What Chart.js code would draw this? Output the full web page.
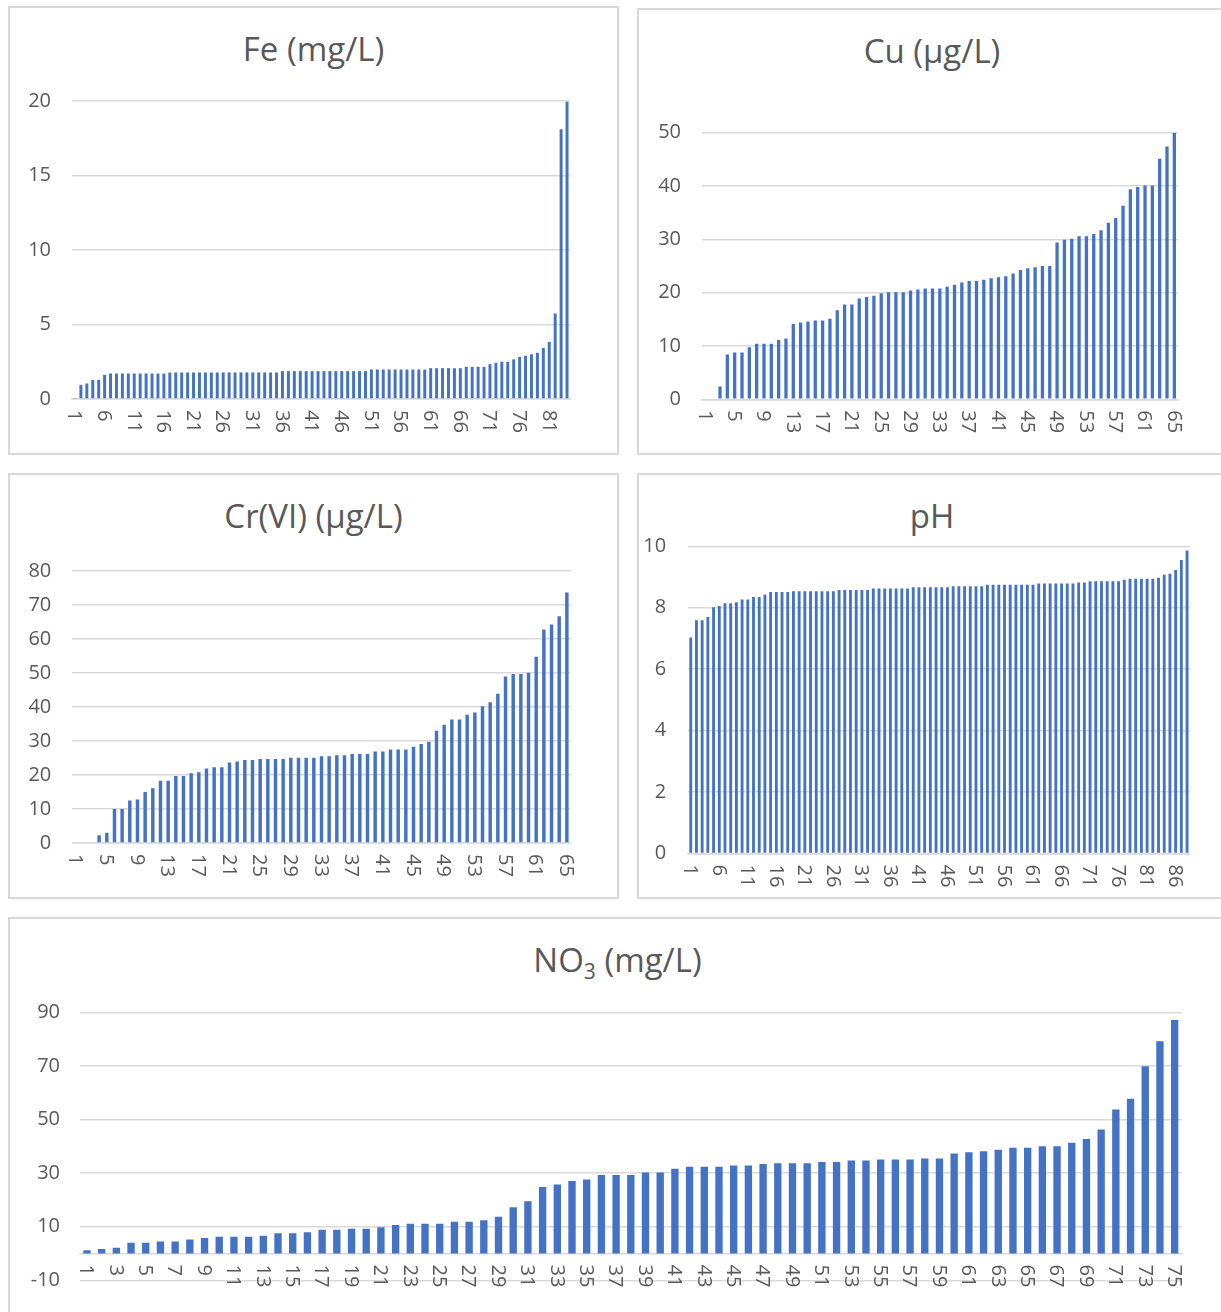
<!DOCTYPE html>
<html>
<head>
<meta charset="utf-8">
<script src="https://cdn.jsdelivr.net/npm/chart.js@4.4.1/dist/chart.umd.min.js"></script>
<style>
  html, body { margin: 0; padding: 0; overflow: hidden; background: #fff; }
  body { width: 1221px; height: 1312px; position: relative; }
  .panel { position: absolute; box-sizing: border-box; border: 2px solid #d9d9d9; }
  .panel canvas { position: absolute; left: -2px; top: -2px; }
  .title { position: absolute; left: 0; right: 0; top: 21px; text-align: center;
           font: 33px/40px "Open Sans", sans-serif; color: #595959; }
  .title sub { font-size: 21px; line-height: 0; vertical-align: -7px; }
</style>
</head>
<body>

<div class="panel" style="left:8px;top:6px;width:611px;height:449px">
  <div class="title">Fe (mg/L)</div>
  <canvas id="fe" width="611" height="449"></canvas>
</div>
<div class="panel" style="left:637px;top:8px;width:590px;height:447px">
  <div class="title">Cu (µg/L)</div>
  <canvas id="cu" width="590" height="447"></canvas>
</div>
<div class="panel" style="left:8px;top:473px;width:611px;height:426px">
  <div class="title">Cr(VI) (µg/L)</div>
  <canvas id="cr" width="611" height="426"></canvas>
</div>
<div class="panel" style="left:637px;top:473px;width:590px;height:426px">
  <div class="title">pH</div>
  <canvas id="ph" width="590" height="426"></canvas>
</div>
<div class="panel" style="left:8px;top:917px;width:1219px;height:400px">
  <div class="title">NO<sub>3</sub> (mg/L)</div>
  <canvas id="no3" width="1219" height="395"></canvas>
</div>

<script>
// sorted sample values
const feValues = [0.07, 0.95, 1.04, 1.28, 1.28, 1.62,
  1.71, 1.71, 1.71, 1.71, 1.71, 1.71, 1.71, 1.71, 1.71, 1.71,
  1.78, 1.78, 1.78, 1.78, 1.78, 1.78, 1.78, 1.78, 1.78, 1.78,
  1.78, 1.78, 1.78, 1.78, 1.78, 1.78, 1.78, 1.78, 1.78,
  1.87, 1.87, 1.87, 1.87, 1.87, 1.87, 1.87, 1.87, 1.87, 1.87,
  1.87, 1.87, 1.87, 1.87, 1.87,
  1.98, 1.98, 1.98, 1.98, 1.98, 1.98, 1.98, 1.98, 1.98, 1.98,
  2.07, 2.07, 2.07, 2.07, 2.07, 2.07,
  2.16, 2.16, 2.16, 2.16,
  2.34, 2.43, 2.5, 2.5, 2.66, 2.82, 2.9, 3.0, 3.1, 3.42, 3.83, 5.74, 18.1, 19.95];

const cuValues = [0, 0, 2.4, 8.4, 8.8, 8.8, 9.75, 10.4, 10.4, 10.4,
  11.1, 11.4, 14.1, 14.4, 14.6, 14.8, 14.8, 15.1, 16.7, 17.8,
  17.8, 18.9, 19.2, 19.4, 19.9, 20.1, 20.1, 20.1, 20.4, 20.6,
  20.8, 20.8, 20.8, 21.1, 21.5, 21.9, 22.2, 22.2, 22.4, 22.7,
  22.9, 23.1, 23.6, 24.25, 24.6, 24.75, 25, 25, 29.4, 29.9,
  30.1, 30.6, 30.6, 31, 31.7, 33.1, 34, 36.3, 39.4, 39.8,
  40.1, 40.1, 45.1, 47.4, 50];

const crValues = [0, 0, 0, 2.25, 3.0, 10, 10, 12.5, 12.8, 15,
  16.1, 18.3, 18.3, 19.7, 19.7, 20.5, 20.8, 21.9, 22.3, 22.3,
  23.7, 24, 24.4, 24.4, 24.7, 24.7, 24.7, 24.7, 25.1, 25.1,
  25.1, 25.1, 25.5, 25.5, 25.8, 25.8, 26.2, 26.2, 26.2, 26.9,
  26.9, 27.5, 27.5, 27.5, 28.3, 29.1, 29.8, 33.0, 34.8, 36.3,
  36.3, 37.7, 38.4, 40.2, 41.4, 43.9, 49.0, 49.7, 49.7, 50.1,
  54.8, 62.8, 64.3, 66.7, 73.7];

const phValues = [7.03, 7.59, 7.59, 7.70, 8.02, 8.06, 8.15, 8.15, 8.18, 8.27,
  8.27, 8.35, 8.35, 8.43, 8.51, 8.51, 8.51, 8.51, 8.54, 8.54,
  8.54, 8.54, 8.54, 8.54, 8.54, 8.54, 8.58, 8.58, 8.58, 8.58,
  8.58, 8.58, 8.63, 8.63, 8.63, 8.63, 8.63, 8.63, 8.63, 8.67,
  8.67, 8.67, 8.67, 8.67, 8.67, 8.67, 8.70, 8.70, 8.70, 8.70,
  8.70, 8.70, 8.75, 8.75, 8.75, 8.75, 8.75, 8.75, 8.75, 8.75,
  8.75, 8.79, 8.79, 8.79, 8.79, 8.79, 8.79, 8.79, 8.82, 8.82,
  8.86, 8.86, 8.86, 8.86, 8.86, 8.86, 8.91, 8.94, 8.94, 8.94,
  8.94, 8.94, 8.98, 9.07, 9.11, 9.23, 9.55, 9.86];

const no3Values = [1.2, 1.7, 2.2, 4.0, 4.0, 4.5, 4.5, 5.3, 5.8, 6.3,
  6.3, 6.3, 6.7, 7.6, 7.6, 8.0, 8.9, 8.9, 9.3, 9.3,
  9.8, 10.7, 11.1, 11.1, 11.1, 11.9, 11.9, 12.4, 13.7, 17.3,
  19.5, 24.8, 25.8, 27.1, 27.6, 29.3, 29.3, 29.3, 30.2, 30.2,
  31.6, 32.4, 32.4, 32.4, 32.9, 32.9, 33.4, 33.7, 33.7, 33.7,
  34.2, 34.2, 34.7, 34.7, 35.1, 35.1, 35.1, 35.5, 35.5, 37.3,
  37.8, 38.2, 38.7, 39.5, 39.5, 40.0, 40.0, 41.3, 42.7, 46.3,
  53.7, 57.8, 69.9, 79.2, 87.1];

// y axis ticks
const feTicks = [0, 5, 10, 15, 20];
const cuTicks = [0, 10, 20, 30, 40, 50];
const crTicks = [0, 10, 20, 30, 40, 50, 60, 70, 80];
const phTicks = [0, 2, 4, 6, 8, 10];
const no3Ticks = [-10, 10, 30, 50, 70, 90];

// sample number shown on every n-th bar
const feStep = 5, cuStep = 4, crStep = 4, phStep = 5, no3Step = 2;

const grey = '#595959';
const blue = '#4472c4';
const font = { family: 'Open Sans', size: 20 };

// excel style labels, turned 90 degrees clockwise
const sampleLabels = {
  id: 'sampleLabels',
  afterDraw(chart, args, opts) {
    const { ctx, scales: { x, y } } = chart;
    const base = y.getPixelForValue(0);
    ctx.save();
    ctx.font = font.size + 'px "Open Sans"';
    ctx.fillStyle = grey;
    ctx.textAlign = 'left';
    ctx.textBaseline = 'middle';
    chart.data.labels.forEach((lab, i) => {
      if (i % opts.step) return;
      ctx.save();
      ctx.translate(x.getPixelForValue(i) - 1, base + 11);
      ctx.rotate(Math.PI / 2);
      ctx.fillText(lab, 0, 0);
      ctx.restore();
    });
    ctx.restore();
  }
};

function barChart(id, values, ticks, step, box) {
  const cats = values.map((v, i) => String(i + 1));
  const xScale = {
    grid: { display: false, drawTicks: false },
    border: { color: '#d9d9d9', width: 1.5 },
    ticks: { display: false }
  };
  if (box.zeroAxis) {
    xScale.position = { y: 0 };
  } else {
    xScale.afterFit = s => { s.height = box.bottom; };
  }
  return new Chart(document.getElementById(id), {
    type: 'bar',
    data: {
      labels: cats,
      datasets: [{
        data: values,
        backgroundColor: blue,
        barPercentage: box.bar,
        categoryPercentage: 1
      }]
    },
    options: {
      responsive: false,
      animation: false,
      layout: { padding: { left: 0, top: box.top, right: box.right, bottom: box.zeroAxis ? box.bottom : 0 } },
      plugins: {
        legend: { display: false },
        tooltip: { enabled: false },
        sampleLabels: { step: step }
      },
      scales: {
        x: xScale,
        y: {
          min: ticks[0],
          max: ticks[ticks.length - 1],
          afterBuildTicks: s => { s.ticks = ticks.map(v => ({ value: v })); },
          afterFit: s => { s.width = box.left; },
          grid: { color: '#d9d9d9', lineWidth: 1.5, drawTicks: false },
          border: { display: false },
          ticks: { padding: box.pad, color: grey, font: font }
        }
      }
    },
    plugins: [sampleLabels]
  });
}

barChart('fe', feValues, feTicks, feStep, { left: 64, top: 95, right: 49, bottom: 56, pad: 21, bar: 0.5 });
barChart('cu', cuValues, cuTicks, cuStep, { left: 64.7, top: 124.7, right: 49, bottom: 55.7, pad: 20.7, bar: 0.45 });
barChart('cr', crValues, crTicks, crStep, { left: 64.3, top: 98, right: 48.3, bottom: 56, pad: 21, bar: 0.45 });
barChart('ph', phValues, phTicks, phStep, { left: 50.9, top: 73.3, right: 37.1, bottom: 45.5, pad: 21.8, bar: 0.5 });
barChart('no3', no3Values, no3Ticks, no3Step, { left: 71.6, top: 95.3, right: 45, bottom: 23, pad: 19.6, bar: 0.5, zeroAxis: true });
</script>
</body>
</html>
